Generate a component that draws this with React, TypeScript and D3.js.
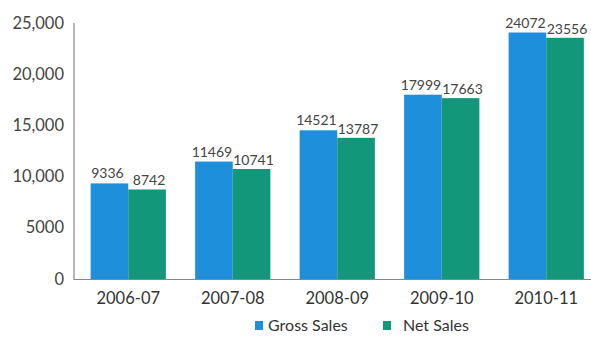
import React from "react";
import * as d3 from "d3";

const categories = ["2006-07", "2007-08", "2008-09", "2009-10", "2010-11"];
const grossSales = [9336, 11469, 14521, 17999, 24072];
const netSales = [8742, 10741, 13787, 17663, 23556];
const yTicks = [0, 5000, 10000, 15000, 20000, 25000];
const seriesNames = ["Gross Sales", "Net Sales"];
const colors = ["#1d8fdb", "#13977a"];

export default function App() {
  const W = 591, H = 338;
  const x0 = 74, yZero = 279, yTop = 23;
  const x = d3.scaleBand().domain(categories).range([76, 598.5]).paddingInner(0.28).paddingOuter(0.14);
  const xs = d3.scaleBand().domain(seriesNames).range([0, x.bandwidth()]);
  const y = d3.scaleLinear().domain([0, 25000]).range([yZero, yTop]);
  const fmt = (v: number) => (v >= 10000 ? d3.format(",")(v) : String(v));
  const font = "'Lato', 'DejaVu Sans', sans-serif";
  const series = [grossSales, netSales];
  return (
    <svg width={W} height={H} style={{ position: "absolute", left: 0, top: 0, background: "#fff" }} fontFamily={font}>
      {categories.map((c, i) =>
        series.map((s, k) => {
          const bx = (x(c) as number) + (xs(seriesNames[k]) as number);
          return (
            <g key={c + k}>
              <rect x={bx} y={y(s[i])} width={xs.bandwidth()} height={yZero - y(s[i])} fill={colors[k]} />
              <text x={bx + xs.bandwidth() / 2 + (k === 0 ? -2 : 2)} y={y(s[i]) - (k === 0 ? 5 : 4)} textAnchor="middle" fontSize={14} fill="#444">
                {s[i]}
              </text>
            </g>
          );
        })
      )}
      <line x1={x0} x2={x0} y1={yTop} y2={yZero + 1} stroke="#888" strokeWidth={1.2} />
      <line x1={x0} x2={591} y1={yZero + 0.5} y2={yZero + 0.5} stroke="#888" strokeWidth={1.2} />
      {yTicks.map((t) => (
        <text key={t} x={64} y={y(t) + 5.5} textAnchor="end" fontSize={16.5} fill="#444">
          {fmt(t)}
        </text>
      ))}
      {categories.map((c) => (
        <text key={c} x={(x(c) as number) + x.bandwidth() / 2} y={304} textAnchor="middle" fontSize={16.5} fill="#333">
          {c}
        </text>
      ))}
      <rect x={255} y={321} width={8} height={9} fill={colors[0]} />
      <text x={268} y={331} fontSize={16} fill="#333">Gross Sales</text>
      <rect x={383} y={321} width={8} height={9} fill={colors[1]} />
      <text x={403} y={331} fontSize={16} fill="#333">Net Sales</text>
    </svg>
  );
}
